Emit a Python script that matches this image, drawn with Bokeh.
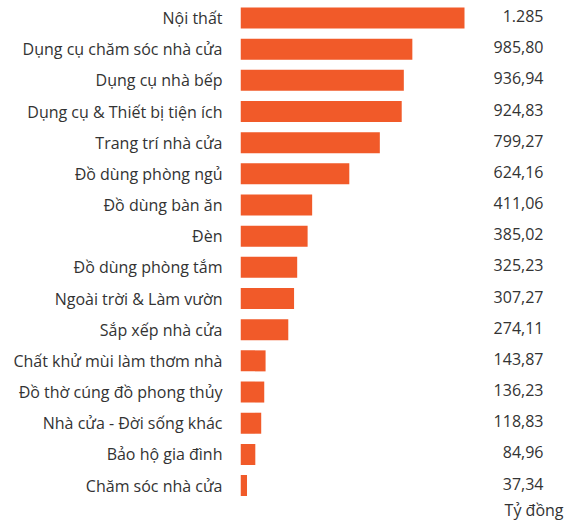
from bokeh.plotting import figure
from bokeh.models import Range1d, FixedTicker, ColumnDataSource
from bokeh.core.properties import value
from bokeh.embed import file_html
from bokeh.resources import INLINE

categories = [
    "Nội thất",
    "Dụng cụ chăm sóc nhà cửa",
    "Dụng cụ nhà bếp",
    "Dụng cụ & Thiết bị tiện ích",
    "Trang trí nhà cửa",
    "Đồ dùng phòng ngủ",
    "Đồ dùng bàn ăn",
    "Đèn",
    "Đồ dùng phòng tắm",
    "Ngoài trời & Làm vườn",
    "Sắp xếp nhà cửa",
    "Chất khử mùi làm thơm nhà",
    "Đồ thờ cúng đồ phong thủy",
    "Nhà cửa - Đời sống khác",
    "Bảo hộ gia đình",
    "Chăm sóc nhà cửa",
]
values = [1285, 985.80, 936.94, 924.83, 799.27, 624.16, 411.06, 385.02,
          325.23, 307.27, 274.11, 143.87, 136.23, 118.83, 84.96, 37.34]
value_labels = ["1.285", "985,80", "936,94", "924,83", "799,27", "624,16",
                "411,06", "385,02", "325,23", "307,27", "274,11", "143,87",
                "136,23", "118,83", "84,96", "37,34"]
unit_label = "Tỷ đồng"

FONT = "Open Sans"
BAR = "#F15A29"
TXT = "#333333"

W, H = 575, 521
left_b = 240
px_per_unit = 224 / 1285.0
step = 31.17
x_end = (W - left_b) / px_per_unit
y_top = -17.5 / step
y_bot = y_top + H / step

idx = list(range(len(categories)))
src = ColumnDataSource(dict(y=idx, v=values, lab=value_labels,
                            xr=[x_end] * len(idx)))

p = figure(width=W, height=H, output_backend="svg", toolbar_location=None,
           x_range=Range1d(0, x_end), y_range=Range1d(y_bot, y_top),
           min_border_left=left_b, min_border_right=0, min_border_top=0,
           min_border_bottom=0, x_axis_location=None)
p.outline_line_color = None
p.grid.visible = False
p.background_fill_color = "white"

p.hbar(y="y", right="v", left=0, height=0.674, source=src,
       fill_color=BAR, line_color=None)

p.text(x="xr", y="y", text="lab", source=src, text_align="right",
       text_baseline="middle", x_offset=-32, y_offset=-2,
       text_font=value(FONT), text_font_size="16px", text_color=TXT)

p.text(x=[x_end], y=[y_bot], text=[unit_label], text_align="right",
       text_baseline="bottom", x_offset=-12, y_offset=-1,
       text_font=value(FONT), text_font_size="16px", text_color=TXT)

ax = p.yaxis[0]
ax.ticker = FixedTicker(ticks=idx)
ax.major_label_overrides = {i: c for i, c in enumerate(categories)}
ax.axis_line_color = None
ax.major_tick_line_color = None
ax.minor_tick_line_color = None
ax.major_tick_out = 0
ax.major_tick_in = 0
ax.major_label_standoff = 18
ax.major_label_text_font = FONT
ax.major_label_text_font_size = "16px"
ax.major_label_text_color = TXT

open("out.html", "w").write(file_html(p, INLINE))
